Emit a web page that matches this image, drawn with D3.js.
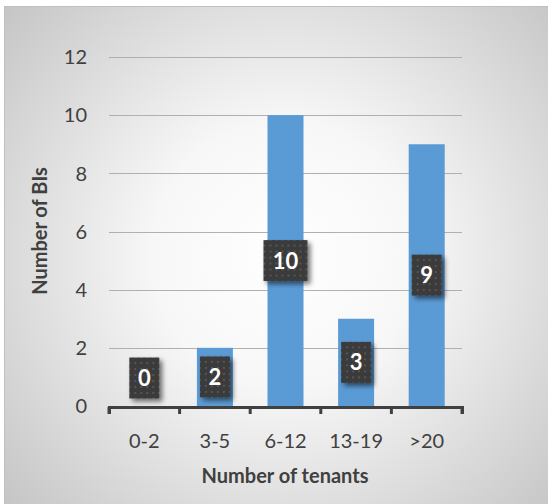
<!DOCTYPE html>
<html>
<head>
<meta charset="utf-8">
<script src="https://cdn.jsdelivr.net/npm/d3@7"></script>
<style>
  html, body { margin: 0; padding: 0; background: #ffffff; }
  svg { display: block; }
</style>
</head>
<body>
<svg id="chart" width="548" height="504"></svg>
<script>
// Bar chart: number of BIs by number of tenants
const categories = ["0-2", "3-5", "6-12", "13-19", ">20"];
const counts = [0, 2, 10, 3, 9];
const yTicks = [0, 2, 4, 6, 8, 10, 12];

const svg = d3.select("#chart");
const W = 548, H = 504;
const plot = { left: 109, right: 462, top: 57, bottom: 406 };
const font = "Lato, 'Open Sans', sans-serif";

const defs = svg.append("defs");

// soft radial background
const bg = defs.append("radialGradient")
  .attr("id", "bgGrad")
  .attr("gradientUnits", "userSpaceOnUse")
  .attr("cx", 285).attr("cy", 255).attr("r", 380);
bg.append("stop").attr("offset", "0%").attr("stop-color", "#ffffff");
bg.append("stop").attr("offset", "35%").attr("stop-color", "#f7f7f7");
bg.append("stop").attr("offset", "100%").attr("stop-color", "#c4c4c4");

// dotted texture for the value boxes
const pat = defs.append("pattern")
  .attr("id", "dots")
  .attr("patternUnits", "userSpaceOnUse")
  .attr("width", 6).attr("height", 6);
pat.append("rect").attr("width", 6).attr("height", 6).attr("fill", "#3a3a3a");
pat.append("rect").attr("x", 2).attr("y", 2).attr("width", 2).attr("height", 2).attr("fill", "#555555");

// drop shadow for the value boxes
const sh = defs.append("filter").attr("id", "shadow")
  .attr("x", "-40%").attr("y", "-40%").attr("width", "200%").attr("height", "200%");
sh.append("feGaussianBlur").attr("in", "SourceAlpha").attr("stdDeviation", 2.5).attr("result", "b");
sh.append("feOffset").attr("in", "b").attr("dx", 3).attr("dy", 3).attr("result", "o");
sh.append("feComponentTransfer").attr("in", "o").attr("result", "s")
  .append("feFuncA").attr("type", "linear").attr("slope", 0.55);
const m = sh.append("feMerge");
m.append("feMergeNode").attr("in", "s");
m.append("feMergeNode").attr("in", "SourceGraphic");

// chart area
svg.append("rect")
  .attr("x", 4.5).attr("y", 6.5)
  .attr("width", W - 4).attr("height", H - 6)
  .attr("fill", "url(#bgGrad)")
  .attr("stroke", "#c0c0c0").attr("stroke-width", 1);

const x = d3.scaleBand().domain(categories).range([plot.left, plot.right]).paddingInner(0.49).paddingOuter(0.245);
const xOuter = d3.scaleBand().domain(categories).range([plot.left, plot.right]);
const y = d3.scaleLinear().domain([0, 12]).range([plot.bottom, plot.top]);

// gridlines
svg.append("g").selectAll("line").data(yTicks.filter(d => d > 0)).join("line")
  .attr("x1", plot.left).attr("x2", plot.right)
  .attr("y1", d => Math.round(y(d)) + 0.5).attr("y2", d => Math.round(y(d)) + 0.5)
  .attr("stroke", "#b0b0b0").attr("stroke-width", 1);

// y tick labels
svg.append("g").selectAll("text").data(yTicks).join("text")
  .attr("x", 87).attr("y", d => y(d))
  .attr("dy", "0.36em")
  .attr("text-anchor", "end")
  .attr("font-family", font).attr("font-size", 20)
  .attr("fill", "#404040")
  .text(d => d);

// bars
svg.append("g").selectAll("rect").data(counts).join("rect")
  .attr("x", (d, i) => x(categories[i]))
  .attr("width", x.bandwidth())
  .attr("y", d => y(d))
  .attr("height", d => plot.bottom - y(d))
  .attr("fill", "#5b9bd5");

// x axis with boundary ticks between categories
const xAxis = d3.axisBottom(xOuter).tickSizeInner(7).tickSizeOuter(7).tickFormat("");
const ax = svg.append("g").attr("transform", `translate(0,${plot.bottom + 1})`).call(xAxis);
ax.selectAll("path, line").attr("stroke", "#404040").attr("stroke-width", 3);
ax.selectAll(".tick line").attr("transform", () => `translate(${-xOuter.bandwidth() / 2},0)`);
ax.append("line")
  .attr("x1", plot.right).attr("x2", plot.right).attr("y1", 0).attr("y2", 7)
  .attr("stroke", "#404040").attr("stroke-width", 3);

// category labels
svg.append("g").selectAll("text").data(categories).join("text")
  .attr("x", d => xOuter(d) + xOuter.bandwidth() / 2)
  .attr("y", 448)
  .attr("text-anchor", "middle")
  .attr("font-family", font).attr("font-size", 20)
  .attr("fill", "#404040")
  .text(d => d);

// axis titles
svg.append("text")
  .attr("x", 285).attr("y", 483)
  .attr("text-anchor", "middle")
  .attr("font-family", font).attr("font-size", 20).attr("font-weight", "bold")
  .attr("fill", "#404040")
  .text("Number of tenants");

svg.append("text")
  .attr("transform", `translate(47,231) rotate(-90)`)
  .attr("text-anchor", "middle")
  .attr("font-family", font).attr("font-size", 20).attr("font-weight", "bold")
  .attr("fill", "#404040")
  .text("Number of BIs");

// value boxes, centred on each bar and kept clear of the axis
const boxH = 41;
const labels = svg.append("g").selectAll("g").data(counts).join("g")
  .attr("transform", (d, i) => {
    const cx = x(categories[i]) + x.bandwidth() / 2;
    const cy = Math.min((y(d) + plot.bottom) / 2, plot.bottom - 28);
    return `translate(${cx},${cy})`;
  });
labels.append("rect")
  .attr("x", d => -(String(d).length > 1 ? 22 : 15))
  .attr("y", -boxH / 2)
  .attr("width", d => String(d).length > 1 ? 44 : 30)
  .attr("height", boxH)
  .attr("fill", "url(#dots)")
  .attr("filter", "url(#shadow)");
labels.append("text")
  .attr("text-anchor", "middle")
  .attr("dy", "0.36em")
  .attr("font-family", font).attr("font-size", 22).attr("font-weight", "bold")
  .attr("fill", "#ffffff")
  .text(d => d);
</script>
</body>
</html>
